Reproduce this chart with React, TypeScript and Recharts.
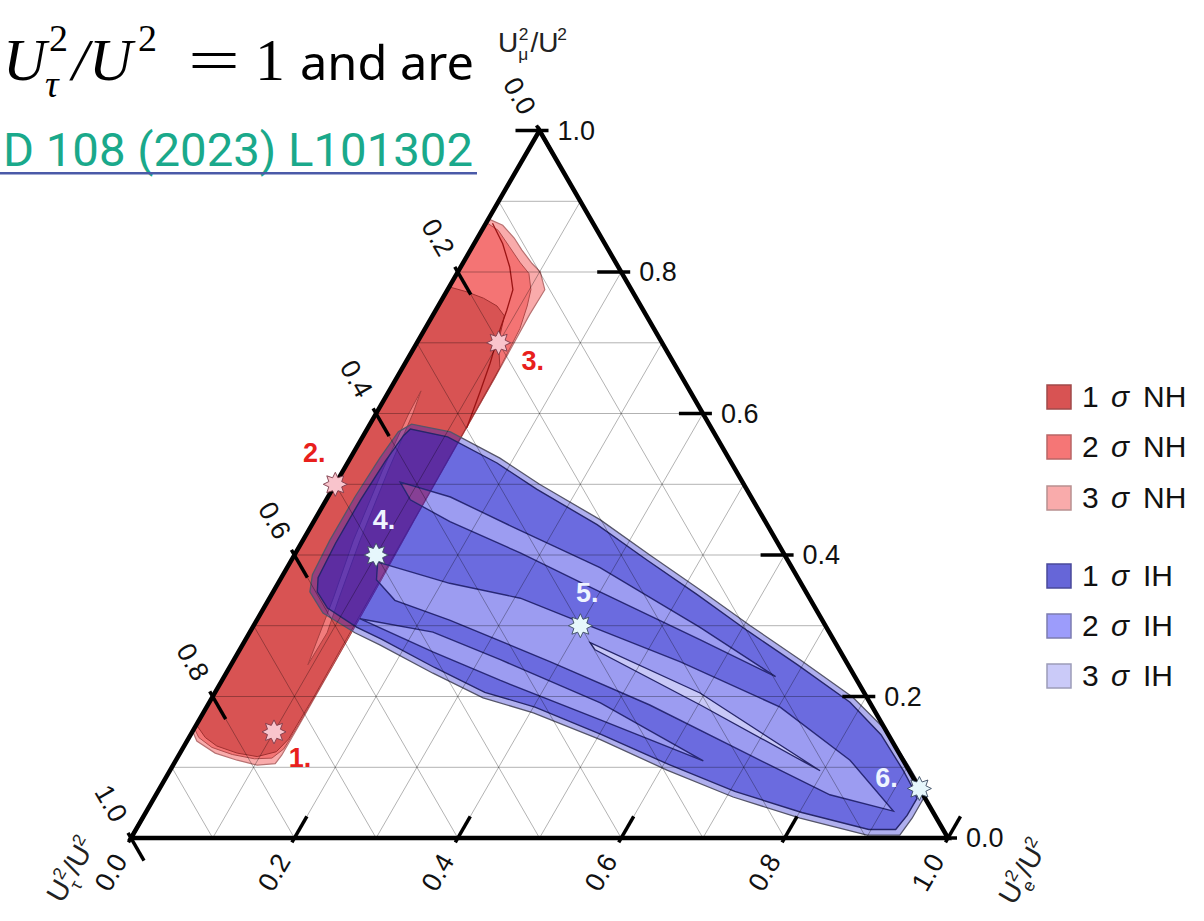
import React from 'react';
import { ScatterChart, Scatter, XAxis, YAxis } from 'recharts';

// every point is [U_e²/U², U_μ²/U²]; U_τ²/U² is whatever is left over
type Tern = [number, number];

const NH_3SIGMA: Tern[] = [
  [0.000, 0.875], [0.022, 0.866], [0.045, 0.848], [0.063, 0.831], [0.085, 0.812], [0.101, 0.800],
  [0.119, 0.775], [0.118, 0.740], [0.120, 0.650], [0.121, 0.550], [0.122, 0.450], [0.124, 0.350],
  [0.125, 0.250], [0.126, 0.160], [0.126, 0.117], [0.124, 0.105], [0.103, 0.103], [0.075, 0.110],
  [0.043, 0.120], [0.012, 0.137], [0.000, 0.151],
];
const NH_2SIGMA: Tern[] = [
  [0.000, 0.870], [0.020, 0.859], [0.045, 0.836], [0.070, 0.813], [0.088, 0.798], [0.102, 0.775],
  [0.109, 0.752], [0.116, 0.720], [0.120, 0.650], [0.121, 0.550], [0.122, 0.450], [0.124, 0.350],
  [0.125, 0.250], [0.125, 0.160], [0.124, 0.126], [0.116, 0.113], [0.095, 0.112], [0.065, 0.118],
  [0.035, 0.128], [0.012, 0.142], [0.000, 0.155],
];
const NH_1SIGMA: Tern[] = [
  [0.000, 0.779], [0.025, 0.772], [0.050, 0.763], [0.072, 0.752], [0.088, 0.738], [0.095, 0.715],
  [0.100, 0.700], [0.108, 0.685], [0.119, 0.665], [0.120, 0.600], [0.121, 0.500], [0.122, 0.400],
  [0.123, 0.300], [0.124, 0.200], [0.123, 0.140], [0.117, 0.122], [0.097, 0.115], [0.070, 0.120],
  [0.040, 0.130], [0.020, 0.142], [0.000, 0.160],
];
const NH_SLIVER: Tern[] = [
  [0.039, 0.632], [0.045, 0.600], [0.055, 0.520], [0.070, 0.420], [0.085, 0.340], [0.095, 0.290],
  [0.094, 0.245], [0.088, 0.280], [0.078, 0.340], [0.062, 0.420], [0.048, 0.520], [0.040, 0.600],
];
const NH_RIDGE: Tern[] = [
  [0.008, 0.869], [0.035, 0.840], [0.060, 0.807], [0.080, 0.775], [0.087, 0.746], [0.092, 0.720],
  [0.096, 0.704], [0.104, 0.671], [0.112, 0.630], [0.121, 0.580],
];

const IH_3SIGMA: Tern[] = [
  [0.040, 0.574], [0.051, 0.585], [0.104, 0.574], [0.183, 0.537], [0.250, 0.500], [0.349, 0.450],
  [0.435, 0.400], [0.521, 0.351], [0.608, 0.300], [0.693, 0.252], [0.784, 0.199], [0.847, 0.153],
  [0.903, 0.100], [0.929, 0.074], [0.942, 0.058], [0.942, 0.028], [0.939, 0.004], [0.899, 0.004],
  [0.805, 0.028], [0.708, 0.058], [0.608, 0.096], [0.505, 0.139], [0.404, 0.177], [0.332, 0.198],
  [0.253, 0.233], [0.168, 0.273], [0.129, 0.290], [0.076, 0.318], [0.045, 0.348], [0.036, 0.372],
  [0.033, 0.421], [0.033, 0.482], [0.036, 0.537],
];
const IH_1SIGMA: Tern[] = [
  [0.049, 0.568], [0.053, 0.578], [0.104, 0.567], [0.183, 0.530], [0.250, 0.493], [0.349, 0.443],
  [0.435, 0.393], [0.521, 0.344], [0.608, 0.293], [0.693, 0.245], [0.784, 0.192], [0.845, 0.146],
  [0.898, 0.095], [0.922, 0.070], [0.934, 0.056], [0.934, 0.032], [0.930, 0.012], [0.897, 0.012],
  [0.803, 0.036], [0.706, 0.066], [0.606, 0.104], [0.503, 0.146], [0.402, 0.185], [0.330, 0.206],
  [0.251, 0.241], [0.166, 0.281], [0.127, 0.298], [0.078, 0.325], [0.054, 0.348], [0.045, 0.368],
  [0.042, 0.417], [0.042, 0.478], [0.045, 0.533],
];
// 2σ bands cut out of the 1σ region
const IH_BAND_UPPER: Tern[] = [
  [0.078, 0.503], [0.150, 0.482], [0.258, 0.435], [0.383, 0.382], [0.547, 0.298], [0.675, 0.228],
  [0.557, 0.280], [0.400, 0.348], [0.275, 0.403], [0.167, 0.447], [0.103, 0.478],
];
const IH_BAND_MID: Tern[] = [
  [0.107, 0.390], [0.210, 0.360], [0.307, 0.339], [0.400, 0.304], [0.548, 0.249], [0.702, 0.185],
  [0.825, 0.110], [0.914, 0.038], [0.825, 0.061], [0.699, 0.117], [0.541, 0.188], [0.389, 0.249],
  [0.236, 0.308], [0.155, 0.336], [0.118, 0.365],
];
const IH_BAND_LOWER: Tern[] = [
  [0.125, 0.310], [0.224, 0.291], [0.326, 0.252], [0.479, 0.191], [0.646, 0.109], [0.491, 0.167],
  [0.340, 0.223], [0.238, 0.263],
];
const IH_CORE_LIGHT: Tern[] = [
  [0.424, 0.276], [0.594, 0.205], [0.796, 0.095], [0.603, 0.188], [0.435, 0.266],
];

const BENCHMARKS = [
  { name: '1.', e: 0.10, mu: 0.15, hier: 'NH' },
  { name: '2.', e: 0.00, mu: 0.50, hier: 'NH' },
  { name: '3.', e: 0.10, mu: 0.70, hier: 'NH' },
  { name: '4.', e: 0.10, mu: 0.40, hier: 'IH' },
  { name: '5.', e: 0.40, mu: 0.30, hier: 'IH' },
  { name: '6.', e: 0.93, mu: 0.07, hier: 'IH' },
];

const GRID_STEPS = [0.1, 0.2, 0.3, 0.4, 0.5, 0.6, 0.7, 0.8, 0.9];
const TICK_VALUES = [0, 0.2, 0.4, 0.6, 0.8, 1];

const LEGEND_ITEMS = [
  { n: '1', hier: 'NH', fill: '#d85353', stroke: '#a04a4a' },
  { n: '2', hier: 'NH', fill: '#f57676', stroke: '#b86666' },
  { n: '3', hier: 'NH', fill: '#f9abab', stroke: '#b89090' },
  { n: '1', hier: 'IH', fill: '#6666d8', stroke: '#4a4a9a' },
  { n: '2', hier: 'IH', fill: '#9c9cfb', stroke: '#7c7cb0' },
  { n: '3', hier: 'IH', fill: '#cacaf8', stroke: '#9c9cb8' },
];

const W = 1204;
const H = 921;
const MARGIN = { top: 130.5, right: 256, bottom: 83, left: 131 };
const H3 = Math.sqrt(3) / 2;
const SANS = "'Liberation Sans', Arial, sans-serif";

const toXY = ([e, mu]: Tern) => ({ x: e + mu / 2, y: mu * H3 });

// flatten several rings into one series, remembering which ring each row is in
const rings = (...polys: Tern[][]) =>
  polys.flatMap((poly, ring) => poly.map(p => ({ ...toXY(p), ring })));

type Row = { ring: number };

function ringPath(rows: Row[], style: React.SVGProps<SVGPathElement>, closed = true) {
  return (props: any) => {
    const pts = props.points || [];
    let d = '';
    pts.forEach((p: any, i: number) => {
      const first = i === 0 || rows[i].ring !== rows[i - 1].ring;
      const last = i === pts.length - 1 || rows[i + 1].ring !== rows[i].ring;
      d += `${first ? 'M' : 'L'}${p.x.toFixed(1)},${p.y.toFixed(1)}${last && closed ? 'Z' : ''}`;
    });
    return <path d={d} fillRule="evenodd" {...style} />;
  };
}

const HIDE = () => <g />;

const nh3 = rings(NH_3SIGMA);
const nh2 = rings(NH_2SIGMA);
const nh1 = rings(NH_1SIGMA);
const nhSliver = rings(NH_SLIVER);
const nhRidge = rings(NH_RIDGE);
const ih3 = rings(IH_3SIGMA);
const ihCore = rings(IH_1SIGMA, IH_BAND_UPPER, IH_BAND_MID, IH_BAND_LOWER);
const ihBands = rings(IH_BAND_UPPER, IH_BAND_MID, IH_BAND_LOWER);
const ihLight = rings(IH_CORE_LIGHT);

const gridRows = GRID_STEPS.flatMap(v => [
  [[0, v], [1 - v, v]],
  [[v, 0], [v, 1 - v]],
  [[0, 1 - v], [1 - v, 0]],
] as Tern[][]).flatMap((seg, ring) => seg.map(p => ({ ...toXY(p), ring })));

const frameRows = rings([[0, 0], [1, 0], [0, 1]]);

const muTicks = TICK_VALUES.map(v => ({ ...toXY([1 - v, v]), label: v.toFixed(1) }));
const tauTicks = TICK_VALUES.map(v => ({ ...toXY([0, 1 - v]), label: v.toFixed(1) }));
const eTicks = TICK_VALUES.map(v => ({ ...toXY([v, 0]), label: v.toFixed(1) }));

const benchRows = BENCHMARKS.map(b => ({ ...toXY([b.e, b.mu]), name: b.name, hier: b.hier }));

type TickCfg = { dir: [number, number]; inner: number; outer: number; label: [number, number]; rotate: number; anchor: string };
const MU_AXIS: TickCfg = { dir: [-1, 0], inner: 24, outer: 9, label: [18, 0], rotate: 0, anchor: 'start' };
const TAU_AXIS: TickCfg = { dir: [0.5, 0.866], inner: 26, outer: 6, label: [-20, -34.6], rotate: 60, anchor: 'middle' };
const E_AXIS: TickCfg = { dir: [0.5, -0.866], inner: 25, outer: 5, label: [-20, 34.6], rotate: -60, anchor: 'middle' };

const tickShape = (cfg: TickCfg) => (p: any) => {
  const { cx, cy, payload } = p;
  const [dx, dy] = cfg.dir;
  const lx = cx + cfg.label[0];
  const ly = cy + cfg.label[1];
  return (
    <g>
      <line x1={cx - dx * cfg.outer} y1={cy - dy * cfg.outer} x2={cx + dx * cfg.inner} y2={cy + dy * cfg.inner}
        stroke="#000" strokeWidth={3.5} />
      <text x={lx} y={ly} transform={`rotate(${cfg.rotate} ${lx} ${ly})`} textAnchor={cfg.anchor as any}
        dominantBaseline="central" fontSize={27} fontFamily={SANS} fill="#111">{payload.label}</text>
    </g>
  );
};

const LABEL_OFFSETS: Record<string, [number, number]> = {
  '1.': [26, 26], '2.': [-21, -31], '3.': [34, 18], '4.': [8, -35], '5.': [7, -33], '6.': [-33, -10],
};

function starPath(cx: number, cy: number, R: number, r: number) {
  let d = '';
  for (let i = 0; i < 16; i++) {
    const a = -Math.PI / 2 + (i * Math.PI) / 8;
    const rad = i % 2 ? r : R;
    d += `${i ? 'L' : 'M'}${(cx + rad * Math.cos(a)).toFixed(1)},${(cy + rad * Math.sin(a)).toFixed(1)}`;
  }
  return d + 'Z';
}

const StarShape = (p: any) => {
  const { cx, cy, payload } = p;
  const nh = payload.hier === 'NH';
  const [ox, oy] = LABEL_OFFSETS[payload.name] || [0, 0];
  return (
    <g>
      <path d={starPath(cx, cy, 12, 7)} fill={nh ? '#f9c4cc' : '#e6f7fc'} stroke={nh ? '#7a3a48' : '#3a4a60'} strokeWidth={0.9} />
      <text x={cx + ox} y={cy + oy} textAnchor="middle" dominantBaseline="central" fontSize={27} fontWeight={700}
        fontFamily={SANS} fill={nh ? '#e8201c' : '#eef4ff'}>{payload.name}</text>
    </g>
  );
};

const BLUE = 'rgb(25,25,205)';

// U^2_x / U^2 written with stacked super/subscript
function Ratio({ sub, size }: { sub: string; size: number }) {
  const s = size * 0.62;
  return (
    <>
      <text x={0} y={0} fontSize={size}>U</text>
      <text x={size * 0.74} y={-size * 0.42} fontSize={s}>2</text>
      <text x={size * 0.72} y={size * 0.3} fontSize={s}>{sub}</text>
      <text x={size * 1.16} y={0} fontSize={size}>/U</text>
      <text x={size * 2.12} y={-size * 0.42} fontSize={s}>2</text>
    </>
  );
}

function Overlay() {
  return (
    <svg width={W} height={H} style={{ position: 'absolute', left: 0, top: 0, pointerEvents: 'none' }}>
      {/* slide heading */}
      <g fontFamily="'Liberation Serif', 'Times New Roman', serif" fill="#000">
        <text x={3} y={80} fontSize={60} fontStyle="italic">U</text>
        <text x={49} y={51} fontSize={38}>2</text>
        <text x={45} y={97} fontSize={38} fontStyle="italic">τ</text>
        <text x={72} y={80} fontSize={60} fontStyle="italic">/</text>
        <text x={89} y={80} fontSize={60} fontStyle="italic">U</text>
        <text x={138} y={51} fontSize={38}>2</text>
        <text x={188} y={80} fontSize={60} textLength={52} lengthAdjust="spacingAndGlyphs">=</text>
        <text x={255} y={80} fontSize={60}>1</text>
      </g>
      <text x={300} y={80} fontSize={48} fontFamily="'Noto Sans', sans-serif" fill="#000"
        textLength={174} lengthAdjust="spacingAndGlyphs">and are</text>
      <text x={3} y={166} fontSize={46} fontFamily="Roboto, sans-serif" fill="#1aa98b"
        textLength={470} lengthAdjust="spacingAndGlyphs">D 108 (2023) L101302</text>
      <rect x={0} y={172} width={477} height={2.5} fill="#4a5aa8" />

      {/* axis titles */}
      <g fontFamily={SANS} fill="#222">
        <g transform="translate(498 52)"><Ratio sub="μ" size={28} /></g>
        <g transform="translate(76 864) rotate(-60) translate(-42 8)"><Ratio sub="τ" size={28} /></g>
        <g transform="translate(1028 866) rotate(-60) translate(-42 8)"><Ratio sub="e" size={28} /></g>
      </g>

      {/* legend */}
      {LEGEND_ITEMS.map((it, i) => {
        const base = [407, 457, 508, 586, 636, 686][i];
        return (
          <g key={i}>
            <rect x={1047} y={base - 22} width={24} height={24} fill={it.fill} stroke={it.stroke} strokeWidth={1.5} />
            <text x={1082} y={base} fontSize={30} fontFamily={SANS} fill="#111">{it.n}</text>
            <text x={1111} y={base} fontSize={30} fontFamily={SANS} fontStyle="italic" fill="#111">σ</text>
            <text x={1143} y={base} fontSize={30} fontFamily={SANS} fill="#111">{it.hier}</text>
          </g>
        );
      })}
    </svg>
  );
}

export default function App() {
  return (
    <div style={{ position: 'absolute', left: 0, top: 0, width: W, height: H, background: '#fff', overflow: 'hidden' }}>
      <ScatterChart width={W} height={H} margin={MARGIN}>
        <XAxis type="number" dataKey="x" domain={[0, 1]} hide />
        <YAxis type="number" dataKey="y" domain={[0, H3]} hide />

        {/* normal hierarchy band */}
        <Scatter data={nh3} shape={HIDE} isAnimationActive={false}
          line={ringPath(nh3, { fill: '#f9abab', stroke: '#b87272', strokeWidth: 1.2 })} />
        <Scatter data={nh2} shape={HIDE} isAnimationActive={false}
          line={ringPath(nh2, { fill: '#f47474', stroke: '#b04a4a', strokeWidth: 1 })} />
        <Scatter data={nh1} shape={HIDE} isAnimationActive={false}
          line={ringPath(nh1, { fill: '#d85353', stroke: '#a03030', strokeWidth: 1 })} />
        <Scatter data={nhSliver} shape={HIDE} isAnimationActive={false}
          line={ringPath(nhSliver, { fill: '#f27c7c', stroke: '#a84040', strokeWidth: 1 })} />
        <Scatter data={nhRidge} shape={HIDE} isAnimationActive={false}
          line={ringPath(nhRidge, { fill: 'none', stroke: '#9a1414', strokeWidth: 1.3 }, false)} />

        {/* inverted hierarchy region, translucent so the band shows through */}
        <Scatter data={ih3} shape={HIDE} isAnimationActive={false}
          line={ringPath(ih3, { fill: BLUE, fillOpacity: 0.35, stroke: '#55556a', strokeWidth: 1.3 })} />
        <Scatter data={ihCore} shape={HIDE} isAnimationActive={false}
          line={ringPath(ihCore, { fill: BLUE, fillOpacity: 0.45, stroke: '#26266a', strokeWidth: 1.4 })} />
        <Scatter data={ihBands} shape={HIDE} isAnimationActive={false}
          line={ringPath(ihBands, { fill: 'rgb(70,70,255)', fillOpacity: 0.18, stroke: 'none' })} />
        <Scatter data={ihLight} shape={HIDE} isAnimationActive={false}
          line={ringPath(ihLight, { fill: '#ffffff', fillOpacity: 0.45, stroke: '#26266a', strokeWidth: 1.3 })} />

        {/* grid, frame and ticks */}
        <Scatter data={gridRows} shape={HIDE} isAnimationActive={false}
          line={ringPath(gridRows, { fill: 'none', stroke: 'rgba(0,0,0,0.3)', strokeWidth: 1 }, false)} />
        <Scatter data={frameRows} shape={HIDE} isAnimationActive={false}
          line={ringPath(frameRows, { fill: 'none', stroke: '#000', strokeWidth: 4.5, strokeLinejoin: 'miter' })} />
        <Scatter data={muTicks} shape={tickShape(MU_AXIS)} isAnimationActive={false} />
        <Scatter data={tauTicks} shape={tickShape(TAU_AXIS)} isAnimationActive={false} />
        <Scatter data={eTicks} shape={tickShape(E_AXIS)} isAnimationActive={false} />

        {/* benchmark points */}
        <Scatter data={benchRows} shape={StarShape} isAnimationActive={false} />
      </ScatterChart>
      <Overlay />
    </div>
  );
}
